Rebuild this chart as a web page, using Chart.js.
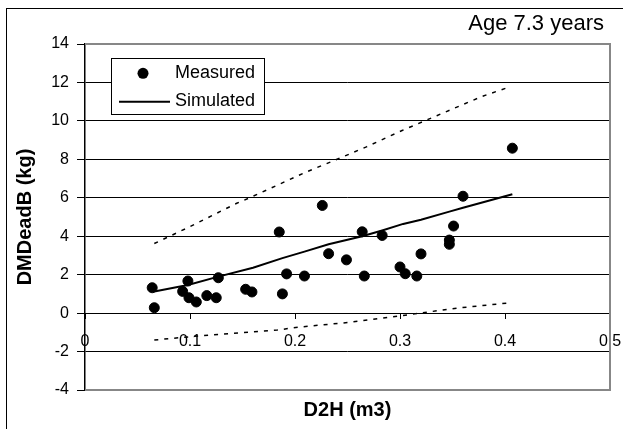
<!DOCTYPE html>
<html>
<head>
<meta charset="utf-8">
<script src="https://cdn.jsdelivr.net/npm/chart.js@4.4.0/dist/chart.umd.min.js"></script>
<style>
  html, body { margin: 0; padding: 0; background: #fff; overflow: hidden; }
  #wrap { position: relative; width: 623px; height: 429px; }
  #frame { position: absolute; left: 6px; top: 8px; width: 700px; height: 500px; border: 1px solid #000; }
  canvas { position: absolute; left: 0; top: 0; }
</style>
</head>
<body>
<div id="wrap">
  <div id="frame"></div>
  <canvas id="c" width="623" height="429"></canvas>
</div>
<script>
// Measured DMDeadB vs D2H
const measuredX = [0.064, 0.066, 0.093, 0.098, 0.099, 0.106, 0.116, 0.125, 0.127, 0.153, 0.159, 0.185, 0.188, 0.192, 0.209,
                   0.226, 0.232, 0.249, 0.264, 0.266, 0.283, 0.300, 0.305, 0.316, 0.320, 0.347, 0.347, 0.351, 0.360, 0.407];
const measuredY = [1.32, 0.28, 1.13, 1.67, 0.80, 0.58, 0.91, 0.80, 1.84, 1.24, 1.10, 4.22, 1.00, 2.04, 1.93,
                   5.60, 3.09, 2.77, 4.23, 1.93, 4.04, 2.40, 2.05, 1.93, 3.08, 3.80, 3.58, 4.53, 6.08, 8.58];

// Simulated line and its bounds
const simX   = [0.066, 0.098, 0.127, 0.160, 0.188, 0.209, 0.232, 0.264, 0.283, 0.303, 0.320, 0.347, 0.360, 0.407];
const simY   = [1.12, 1.46, 1.90, 2.36, 2.86, 3.20, 3.58, 4.00, 4.30, 4.64, 4.86, 5.28, 5.48, 6.18];
const upperX = [0.066, 0.100, 0.144, 0.156, 0.211, 0.233, 0.268, 0.302, 0.335, 0.378, 0.405];
const upperY = [3.62, 4.50, 5.70, 5.98, 7.35, 7.84, 8.65, 9.50, 10.27, 11.27, 11.78];
const lowerX = [0.066, 0.110, 0.183, 0.205, 0.252, 0.300, 0.319, 0.354, 0.405];
const lowerY = [-1.40, -1.18, -0.88, -0.72, -0.48, -0.15, 0.00, 0.26, 0.54];

const xTicks = [0, 0.1, 0.2, 0.3, 0.4, 0.5];
const yTicks = [-4, -2, 0, 2, 4, 6, 8, 10, 12, 14];
const chartTitle = 'Age 7.3 years';

const FONT = '"Liberation Sans", Arial, sans-serif';
Chart.defaults.font.family = FONT;
Chart.defaults.color = '#000';

const pts = (xs, ys) => xs.map((x, i) => ({ x: x, y: ys[i] }));

// gray plot-area border (top, right, bottom)
const plotFrame = {
  id: 'plotFrame',
  beforeDatasetsDraw(chart) {
    const { ctx, chartArea: a } = chart;
    ctx.save();
    ctx.strokeStyle = '#878787';
    ctx.lineWidth = 2;
    ctx.beginPath();
    ctx.moveTo(a.left, a.top);
    ctx.lineTo(a.right, a.top);
    ctx.lineTo(a.right, a.bottom);
    ctx.lineTo(a.left, a.bottom);
    ctx.stroke();
    ctx.restore();
  }
};

// boxed legend inside the plot, first two datasets only
const legendBox = {
  id: 'legendBox',
  afterDatasetsDraw(chart) {
    const { ctx, chartArea: a } = chart;
    const ds = chart.data.datasets;
    const x = a.left + 26, y = a.top + 14, w = 153, h = 56;
    ctx.save();
    ctx.fillStyle = '#fff';
    ctx.fillRect(x, y, w, h);
    ctx.strokeStyle = '#000';
    ctx.lineWidth = 1;
    ctx.strokeRect(x + 0.5, y + 0.5, w, h);
    ctx.fillStyle = '#000';
    ctx.beginPath();
    ctx.arc(x + 32, y + 15.3, 5.5, 0, Math.PI * 2);
    ctx.fill();
    ctx.lineWidth = 2;
    ctx.beginPath();
    ctx.moveTo(x + 8, y + 43.7);
    ctx.lineTo(x + 59, y + 43.7);
    ctx.stroke();
    ctx.font = '18px ' + FONT;
    ctx.textAlign = 'left';
    ctx.textBaseline = 'middle';
    ctx.fillText(ds[0].label, x + 64, y + 15.5);
    ctx.fillText(ds[1].label, x + 64, y + 43.2);
    ctx.restore();
  }
};

const cornerTitle = {
  id: 'cornerTitle',
  afterDraw(chart) {
    const ctx = chart.ctx;
    ctx.save();
    ctx.font = '22px ' + FONT;
    ctx.fillStyle = '#000';
    ctx.textAlign = 'right';
    ctx.textBaseline = 'alphabetic';
    ctx.fillText(chartTitle, 604, 30);
    ctx.restore();
  }
};

new Chart(document.getElementById('c'), {
  type: 'scatter',
  data: {
    datasets: [
      { label: 'Measured', data: pts(measuredX, measuredY), backgroundColor: '#000', borderColor: '#000',
        pointRadius: 5, pointHoverRadius: 5, showLine: false },
      { label: 'Simulated', data: pts(simX, simY), borderColor: '#000', borderWidth: 2,
        pointRadius: 0, showLine: true, tension: 0 },
      { label: 'Upper', data: pts(upperX, upperY), borderColor: '#000', borderWidth: 1.5,
        borderDash: [4, 6], pointRadius: 0, showLine: true },
      { label: 'Lower', data: pts(lowerX, lowerY), borderColor: '#000', borderWidth: 1.5,
        borderDash: [4, 6], pointRadius: 0, showLine: true }
    ]
  },
  options: {
    responsive: false,
    animation: false,
    devicePixelRatio: 1,
    layout: { padding: { left: 0, right: 13, top: 44, bottom: 0 } },
    plugins: { legend: { display: false }, tooltip: { enabled: false } },
    scales: {
      x: {
        type: 'linear', position: { y: 0 }, min: 0, max: 0.5,
        afterBuildTicks: s => { s.ticks = xTicks.map(v => ({ value: v })); },
        afterFit: s => { s.paddingLeft = 0; s.paddingRight = 0; },
        ticks: { font: { size: 16 }, padding: 14, autoSkip: false, maxRotation: 0, callback: v => String(v) },
        grid: { drawOnChartArea: false, drawTicks: true, tickLength: 5, color: '#000' },
        border: { display: true, color: '#000', width: 1 }
      },
      x2: {
        type: 'linear', position: 'bottom', min: 0, max: 0.5,
        afterFit: s => { s.height = 39; s.paddingLeft = 0; s.paddingRight = 0; },
        ticks: { display: false },
        grid: { display: false },
        border: { display: false },
        title: { display: true, text: 'D2H (m3)', font: { size: 20, weight: 'bold' }, padding: { top: 0, bottom: 7 } }
      },
      y: {
        type: 'linear', position: 'left', min: -4, max: 14,
        afterBuildTicks: s => { s.ticks = yTicks.map(v => ({ value: v })); },
        afterFit: s => { s.width = 85; },
        ticks: { font: { size: 16 }, padding: 8, callback: v => String(v) },
        grid: { color: '#000', lineWidth: 1, tickLength: 8 },
        border: { display: true, color: '#000', width: 1.5 },
        title: { display: true, text: 'DMDeadB (kg)', font: { size: 20, weight: 'bold' }, padding: { top: 13, bottom: 0 } }
      }
    }
  },
  plugins: [plotFrame, legendBox, cornerTitle]
});
</script>
</body>
</html>
